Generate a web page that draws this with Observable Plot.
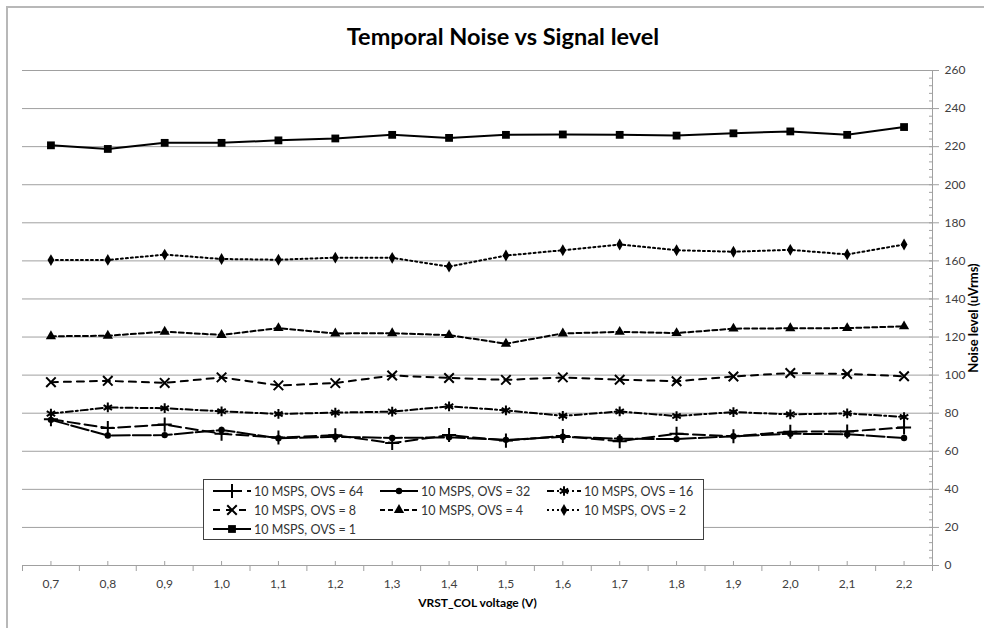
<!DOCTYPE html>
<html>
<head>
<meta charset="utf-8">
<script src="https://cdn.jsdelivr.net/npm/d3@7"></script>
<script src="https://cdn.jsdelivr.net/npm/@observablehq/plot@0.6"></script>
<style>
  body { margin: 0; background: #fff; font-family: Lato, "Open Sans", sans-serif; }
  #wrap { position: relative; width: 984px; height: 628px; overflow: hidden; background: #fff; }
  #frame { position: absolute; left: 6px; top: 6px; width: 1100px; height: 800px; border: 2px solid #b8b8b8; }
  #chart { position: absolute; left: 0; top: 0; }
  #title { position: absolute; left: 11px; width: 984px; top: 22px; text-align: center;
           font-weight: bold; font-size: 23.5px; color: #000; line-height: 28px; }
  #legend { position: absolute; left: 203px; top: 479px; width: 499px; height: 59px;
            border: 1px solid #404040; background: #fff; }
  .item { position: absolute; height: 18px; display: flex; align-items: center; }
  .item span { font-size: 12.5px; color: #333; margin-left: 3px; white-space: nowrap; }
</style>
</head>
<body>
<div id="wrap">
  <div id="frame"></div>
  <div id="chart"></div>
  <div id="title">Temporal Noise vs Signal level</div>
  <div id="legend"></div>
</div>
<script>
// VRST_COL voltage steps (V)
const volts = [0.7, 0.8, 0.9, 1.0, 1.1, 1.2, 1.3, 1.4, 1.5, 1.6, 1.7, 1.8, 1.9, 2.0, 2.1, 2.2];

// Series names, in legend order
const seriesNames = [
  "10 MSPS, OVS = 64",
  "10 MSPS, OVS = 32",
  "10 MSPS, OVS = 16",
  "10 MSPS, OVS = 8",
  "10 MSPS, OVS = 4",
  "10 MSPS, OVS = 2",
  "10 MSPS, OVS = 1"
];

// Temporal noise (uVrms) per oversampling factor
const ovs64 = [76.8, 72.2, 74.0, 69.2, 67.2, 68.4, 64.3, 68.5, 65.6, 68.0, 65.3, 69.2, 67.9, 70.3, 70.4, 72.5];
const ovs32 = [76.5, 68.3, 68.5, 71.2, 66.8, 67.6, 67.0, 67.3, 66.0, 67.6, 66.6, 66.4, 67.9, 69.2, 68.9, 67.0];
const ovs16 = [79.8, 83.0, 82.6, 81.0, 79.6, 80.3, 80.8, 83.6, 81.5, 78.6, 80.9, 78.5, 80.6, 79.4, 79.9, 78.0];
const ovs8  = [96.3, 97.0, 95.9, 98.8, 94.6, 95.8, 99.8, 98.5, 97.5, 98.8, 97.6, 96.8, 99.3, 101.1, 100.6, 99.4];
const ovs4  = [120.4, 120.7, 122.8, 121.1, 124.7, 121.9, 122.0, 121.0, 116.5, 121.9, 122.7, 122.1, 124.4, 124.6, 124.7, 125.6];
const ovs2  = [160.4, 160.5, 163.3, 161.0, 160.6, 161.7, 161.6, 157.0, 162.8, 165.6, 168.6, 165.6, 164.8, 165.8, 163.4, 168.6];
const ovs1  = [220.7, 218.8, 222.0, 222.0, 223.3, 224.3, 226.2, 224.6, 226.2, 226.4, 226.2, 225.8, 227.0, 228.0, 226.2, 230.3];

// Y axis ticks
const yMajor = [0, 20, 40, 60, 80, 100, 120, 140, 160, 180, 200, 220, 240, 260];

const seriesValues = [ovs64, ovs32, ovs16, ovs8, ovs4, ovs2, ovs1];

// Line dash and marker for each series (same order as seriesNames)
const looks = [
  {dash: "12,5",    symbol: "plus",     r: 4.6, stroked: true},
  {dash: "18,3",    symbol: "circle",   r: 3.2, stroked: false},
  {dash: "7,3,2,3", symbol: "asterisk", r: 4.6, stroked: true},
  {dash: "7,6",     symbol: "times",    r: 4.4, stroked: true},
  {dash: "5,3",     symbol: "triangle", r: 3.8, stroked: false},
  {dash: "2,3",     symbol: "diamond",  r: 3.6, stroked: false},
  {dash: null,      symbol: "square",   r: 4.4, stroked: false}
];

const rows = seriesNames.flatMap((name, s) =>
  volts.map((v, i) => ({series: name, volt: v, noise: seriesValues[s][i]})));

const grid = "#a0a0a0";
const xLo = 0.65, xHi = 2.25;
const boundaries = d3.range(volts.length + 1).map(i => xLo + i * 0.1);
const yMinor = d3.range(0, 261, 4);
const fmtVolt = d => d3.format(".1f")(d).replace(".", ",");

const seriesMarks = seriesNames.flatMap((name, s) => {
  const lk = looks[s];
  const data = rows.filter(d => d.series === name);
  return [
    Plot.line(data, {x: "volt", y: "noise", stroke: "#000", strokeWidth: 2,
      strokeDasharray: lk.dash ?? undefined, strokeLinejoin: "round"}),
    Plot.dot(data, {x: "volt", y: "noise", symbol: lk.symbol, r: lk.r,
      fill: lk.stroked ? "none" : "#000",
      stroke: lk.stroked ? "#000" : "none",
      strokeWidth: lk.stroked ? 2 : 0})
  ];
});

const chart = Plot.plot({
  width: 984,
  height: 628,
  marginLeft: 22,
  marginRight: 52,
  marginTop: 70,
  marginBottom: 63,
  style: {fontFamily: "Lato, sans-serif", fontSize: "12px", color: "#404040", background: "transparent"},
  x: {type: "linear", domain: [xLo, xHi]},
  y: {domain: [0, 260]},
  marks: [
    Plot.ruleY(yMajor, {stroke: grid, strokeWidth: 1}),
    Plot.ruleX([xHi], {stroke: grid, strokeWidth: 1}),
    // right axis: minor ticks inside, major ticks outside with labels
    Plot.axisY(yMinor, {anchor: "right", tickSize: 4, dx: -4, tickFormat: () => "", stroke: grid, label: null}),
    Plot.axisY(yMajor, {anchor: "right", tickSize: 6, tickPadding: 6, stroke: grid, label: null}),
    // bottom axis: boundary ticks outside, centre ticks inside, labels at centres
    Plot.axisX(boundaries, {tickSize: 6, tickFormat: () => "", stroke: grid, label: null}),
    Plot.axisX(volts, {tickSize: 4, dy: -4, tickFormat: () => "", stroke: grid, label: null}),
    Plot.axisX(volts, {tickSize: 0, tickPadding: 14, tickFormat: fmtVolt, label: null}),
    Plot.text(["VRST_COL voltage (V)"], {frameAnchor: "bottom", dy: 41, textAnchor: "middle",
      fontWeight: "bold", fontSize: 12, fill: "#000"}),
    Plot.text(["Noise level (uVrms)"], {frameAnchor: "right", dx: 41, rotate: -90, textAnchor: "middle",
      fontWeight: "bold", fontSize: 13, fill: "#000"}),
    ...seriesMarks
  ]
});
document.getElementById("chart").appendChild(chart);

// Legend: three columns, line sample with marker followed by the series name
const symbolTypes = {
  plus: d3.symbolPlus, circle: d3.symbolCircle, asterisk: d3.symbolAsterisk,
  times: d3.symbolTimes, triangle: d3.symbolTriangle, diamond: d3.symbolDiamond, square: d3.symbolSquare
};
const colLeft = [9, 176, 343];
const sampleW = [38, 38, 34];
const rowTop = [2, 21, 40];
const legend = d3.select("#legend");
seriesNames.forEach((name, s) => {
  const lk = looks[s];
  const col = s % 3, row = Math.floor(s / 3);
  const item = legend.append("div").attr("class", "item")
    .style("left", colLeft[col] + "px").style("top", rowTop[row] + "px");
  const w = sampleW[col];
  const svg = item.append("svg").attr("width", w).attr("height", 18);
  svg.append("line").attr("x1", 0).attr("x2", w).attr("y1", 9).attr("y2", 9)
    .attr("stroke", "#000").attr("stroke-width", 2)
    .attr("stroke-dasharray", lk.dash);
  svg.append("path")
    .attr("transform", `translate(${w / 2},9)`)
    .attr("d", d3.symbol(symbolTypes[lk.symbol], Math.PI * lk.r * lk.r)())
    .attr("fill", lk.stroked ? "none" : "#000")
    .attr("stroke", lk.stroked ? "#000" : "none")
    .attr("stroke-width", lk.stroked ? 2 : 0);
  item.append("span").text(name);
});
</script>
</body>
</html>
